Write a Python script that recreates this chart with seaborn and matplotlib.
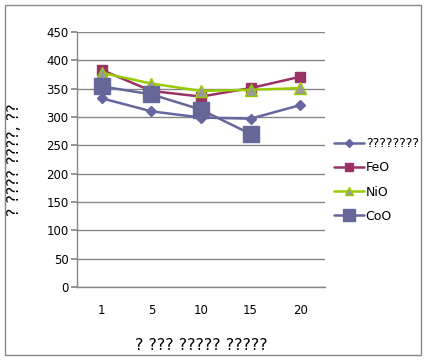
import numpy as np
import pandas as pd
import matplotlib
matplotlib.use("Agg")
import matplotlib.pyplot as plt
import seaborn as sns
from matplotlib.patches import Rectangle

categories = ["1", "5", "10", "15", "20"]
s1_name = "????????"
s1 = [333, 310, 299, 297, 321]
feo = [383, 346, 336, 351, 371]
nio = [378, 359, 346, 348, 351]
coo = [354, 340, 313, 270, np.nan]
yticks = [0, 50, 100, 150, 200, 250, 300, 350, 400, 450]
xlabel = "? ??? ????? ?????"
ylabel = "? ???? ????, ??"

sns.set_theme(style="white")
plt.rcParams['font.family'] = ['DejaVu Sans']
plt.rcParams['text.color'] = 'black'
plt.rcParams['axes.labelcolor'] = 'black'
plt.rcParams['xtick.color'] = 'black'
plt.rcParams['ytick.color'] = 'black'

fig = plt.figure(figsize=(4.27, 3.6), dpi=100)
ax = fig.add_axes([77/427, 1-287/360, (325-77)/427, (287-32)/360])

pos = list(range(len(categories)))
df = pd.DataFrame({"x": pos, s1_name: s1, "FeO": feo, "NiO": nio, "CoO": coo})

styles = [
    (s1_name, "#6666A0", "D", 5.5, "#6666A0", "#6666A0"),
    ("FeO", "#993366", "s", 7.5, "#993366", "#993366"),
    ("NiO", "#99CC00", "^", 8, "#999999", "#99CC00"),
    ("CoO", "#666699", "s", 11, "#666699", "#666699"),
]
for name, col, mk, ms, mfc, mec in styles:
    sns.lineplot(data=df, x="x", y=name, ax=ax, color=col, marker=mk,
                 markersize=ms, markerfacecolor=mfc, markeredgecolor=mec,
                 markeredgewidth=1, linewidth=1.8, label=name)

ax.set_xlim(-0.5, len(categories) - 0.5)
ax.set_ylim(0, 450)
ax.set_yticks(yticks)
ax.set_xticks(pos)
ax.set_xticklabels(categories)
ax.yaxis.grid(True, color="#868686", linewidth=1)
ax.xaxis.grid(False)
for side in ["top", "right"]:
    ax.spines[side].set_visible(False)
for side in ["left", "bottom"]:
    ax.spines[side].set_color("#868686")
    ax.spines[side].set_linewidth(1)
ax.tick_params(axis="y", length=4, color="#868686", left=True, labelsize=8.5, pad=2)
ax.tick_params(axis="x", length=0, labelsize=8.5, pad=12)
ax.set_xlabel(xlabel, fontsize=11.5)
ax.set_ylabel(ylabel, fontsize=11.5)
ax.yaxis.set_label_coords(-0.22, 0.5)
ax.xaxis.set_label_coords(0.5, -0.2)

leg = ax.legend(loc="center left", bbox_to_anchor=(1.0, 0.42), frameon=False,
                fontsize=9, handlelength=2.4, labelspacing=0.9, handletextpad=0.15,
                borderaxespad=0.3, markerscale=0.8)

fig.patches.append(Rectangle((5/427, 5/360), 416/427, 350/360, transform=fig.transFigure,
                             fill=False, edgecolor="#868686", linewidth=1))
fig.savefig("out.png", dpi=100)
